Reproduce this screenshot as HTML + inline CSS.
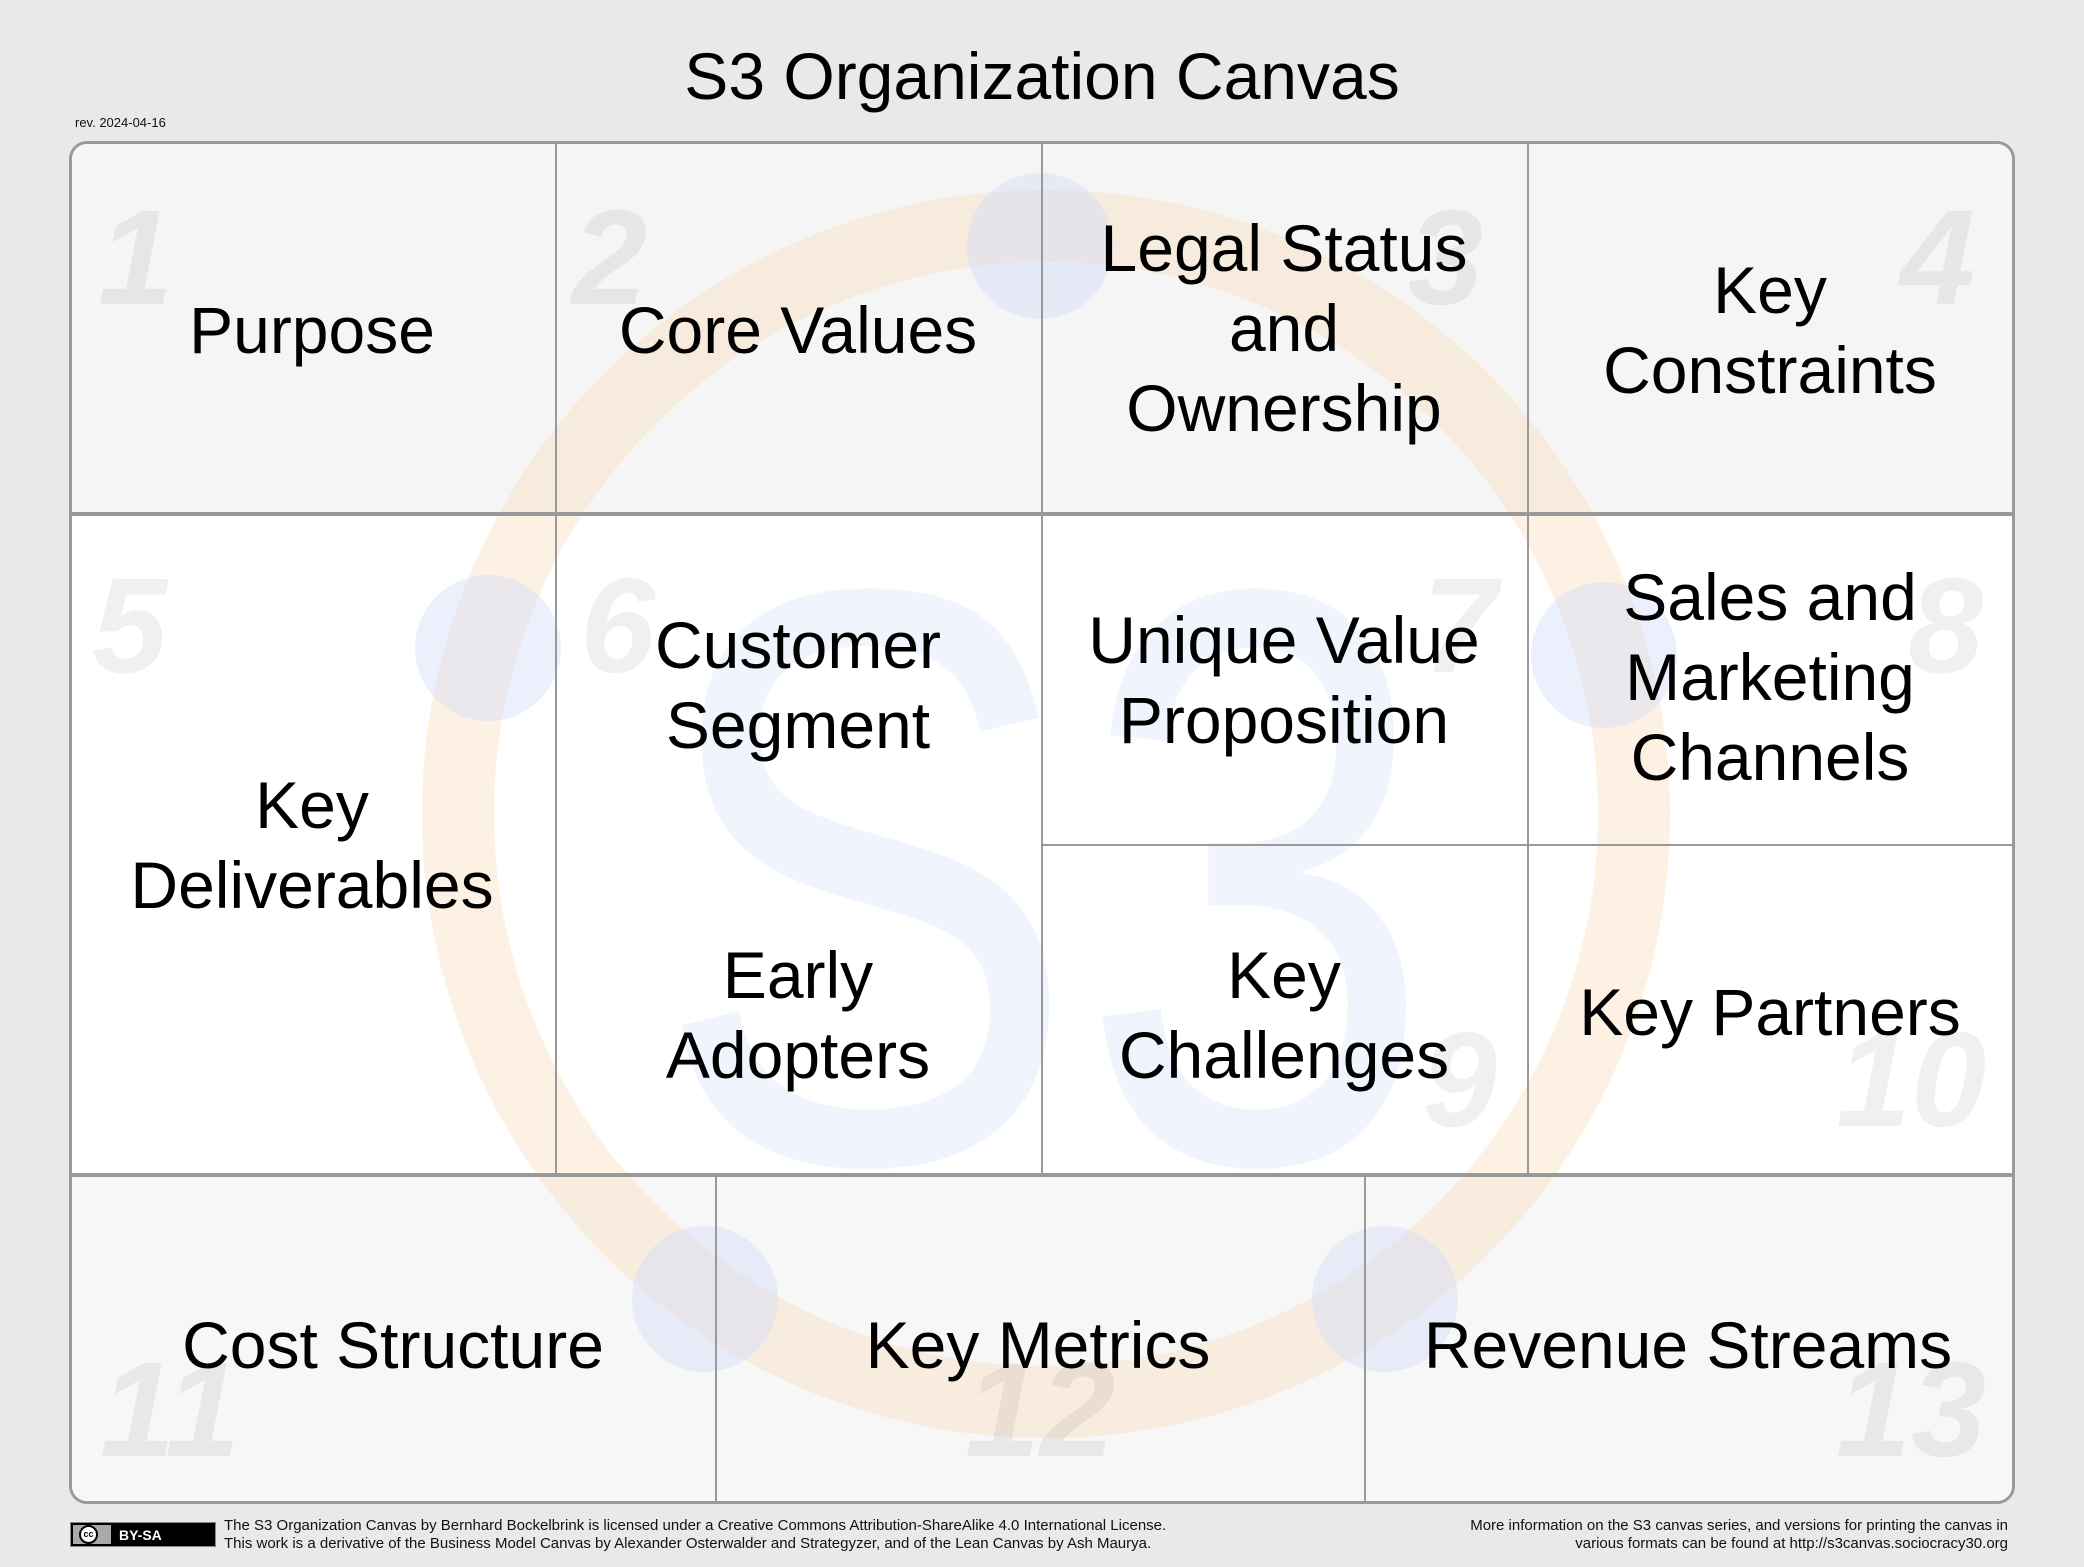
<!DOCTYPE html>
<html><head><meta charset="utf-8">
<style>
html,body{margin:0;padding:0;}
body{width:2084px;height:1567px;background:#e8e9e8;position:relative;overflow:hidden;font-family:"Liberation Sans","DejaVu Sans",sans-serif;}
.abs{position:absolute;}
.lbl{position:absolute;font-size:66px;line-height:80px;color:#000;text-align:center;white-space:nowrap;transform:translateX(-50%);}
.num{position:absolute;font-size:135px;font-weight:bold;font-style:italic;color:#000;opacity:0.055;line-height:1;}
.small{position:absolute;font-size:15px;line-height:18px;color:#111;white-space:nowrap;}
</style></head><body>
<div class="abs" style="left:0;width:2084px;top:38px;text-align:center;font-size:66px;line-height:76px;">S3 Organization Canvas</div>
<div class="small" style="left:75px;top:114px;font-size:13px;">rev. 2024-04-16</div>

<div class="abs" style="left:69px;top:141px;width:1946px;height:1363px;border-radius:18px;overflow:hidden;background:#fff;border:3px solid #9a9a9a;box-sizing:border-box;">
  <div class="abs" style="left:0;top:0;width:100%;height:370px;background:#f5f5f5;"></div>
  <div class="abs" style="left:0;top:1033px;width:100%;height:340px;background:#f7f7f7;"></div>
  <svg class="abs" style="left:-69px;top:-141px;" width="2084" height="1567">
    <circle cx="1043" cy="811" r="588" fill="none" stroke="#fbd9b8" stroke-width="72" opacity="0.38"/>
    <g fill="#cfdcf7" opacity="0.42">
      <circle cx="1037" cy="243" r="73"/>
      <circle cx="485" cy="645" r="73"/>
      <circle cx="1601" cy="652" r="73"/>
      <circle cx="702" cy="1296" r="73"/>
      <circle cx="1382" cy="1296" r="73"/>
    </g>
    <text x="0" y="0" transform="translate(1040,1158) scale(0.78,1)" text-anchor="middle" font-family="Liberation Sans, sans-serif" font-size="820" fill="#dde7fb" opacity="0.42">S3</text>
  </svg>
  <div class="abs" style="left:0;top:368px;width:100%;height:4px;background:#999;"></div>
  <div class="abs" style="left:0;top:1029px;width:100%;height:4px;background:#999;"></div>
  <div class="abs" style="left:483px;top:0;width:2px;height:1031px;background:#999;"></div>
  <div class="abs" style="left:969px;top:0;width:2px;height:1031px;background:#999;"></div>
  <div class="abs" style="left:1455px;top:0;width:2px;height:1031px;background:#999;"></div>
  <div class="abs" style="left:969px;top:700px;width:977px;height:2px;background:#999;"></div>
  <div class="abs" style="left:643px;top:1031px;width:2px;height:340px;background:#999;"></div>
  <div class="abs" style="left:1292px;top:1031px;width:2px;height:340px;background:#999;"></div>
</div>

<div class="num" style="left:98px;top:190px;">1</div>
<div class="num" style="left:572px;top:190px;">2</div>
<div class="num" style="left:1408px;top:190px;">3</div>
<div class="num" style="left:1900px;top:190px;">4</div>
<div class="num" style="left:92px;top:558px;">5</div>
<div class="num" style="left:580px;top:558px;">6</div>
<div class="num" style="left:1422px;top:558px;">7</div>
<div class="num" style="left:1908px;top:558px;">8</div>
<div class="num" style="left:1422px;top:1012px;">9</div>
<div class="num" style="left:1836px;top:1012px;">10</div>
<div class="num" style="left:100px;top:1342px;">11</div>
<div class="num" style="left:965px;top:1342px;">12</div>
<div class="num" style="left:1836px;top:1342px;">13</div>

<div class="lbl" style="left:312px;top:290px;">Purpose</div>
<div class="lbl" style="left:798px;top:290px;">Core Values</div>
<div class="lbl" style="left:1284px;top:208px;">Legal Status<br>and<br>Ownership</div>
<div class="lbl" style="left:1770px;top:250px;">Key<br>Constraints</div>
<div class="lbl" style="left:312px;top:765px;">Key<br>Deliverables</div>
<div class="lbl" style="left:798px;top:605px;">Customer<br>Segment</div>
<div class="lbl" style="left:798px;top:935px;">Early<br>Adopters</div>
<div class="lbl" style="left:1284px;top:600px;">Unique Value<br>Proposition</div>
<div class="lbl" style="left:1770px;top:557px;">Sales and<br>Marketing<br>Channels</div>
<div class="lbl" style="left:1284px;top:935px;">Key<br>Challenges</div>
<div class="lbl" style="left:1770px;top:972px;">Key Partners</div>
<div class="lbl" style="left:393px;top:1305px;">Cost Structure</div>
<div class="lbl" style="left:1038px;top:1305px;">Key Metrics</div>
<div class="lbl" style="left:1688px;top:1305px;">Revenue Streams</div>

<div class="abs" style="left:70px;top:1522px;width:146px;height:25px;background:#000;border:1px solid #888;box-sizing:border-box;">
  <div class="abs" style="left:2px;top:2px;width:38px;height:19px;background:#aaa;"></div>
  <div class="abs" style="left:8px;top:2px;width:19px;height:19px;border-radius:50%;background:#fff;border:2px solid #000;box-sizing:border-box;font-size:9px;font-weight:bold;line-height:15px;text-align:center;">cc</div>
  <div class="abs" style="left:48px;top:3px;color:#fff;font-size:14px;font-weight:bold;line-height:18px;">BY-SA</div>
</div>
<div class="small" style="left:224px;top:1517px;">The S3 Organization Canvas by Bernhard Bockelbrink is licensed under a Creative Commons Attribution-ShareAlike 4.0 International License.</div>
<div class="small" style="left:224px;top:1535px;">This work is a derivative of the Business Model Canvas by Alexander Osterwalder and Strategyzer, and of the Lean Canvas by Ash Maurya.</div>
<div class="small" style="right:76px;top:1517px;text-align:right;">More information on the S3 canvas series, and versions for printing the canvas in<br>various formats can be found at http://s3canvas.sociocracy30.org</div>
</body></html>
